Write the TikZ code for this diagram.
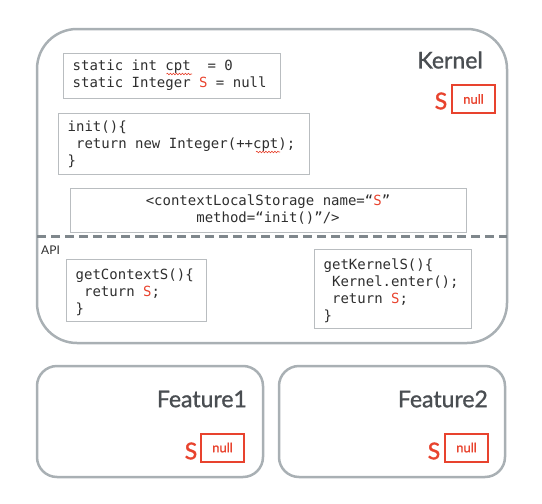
\documentclass[tikz,border=0pt]{standalone}
\usepackage{fontspec}
\setmainfont{Lato}
\newfontfamily\titlefont{Lato}[FakeBold=1.2]
\newfontfamily\sfontb{Lato}[FakeBold=1.6]
\newfontfamily\codefont{DejaVu Sans Mono}[WordSpace={1,0,0}]
\usetikzlibrary{decorations.pathmorphing}
\definecolor{outline}{HTML}{A9B0B4}
\definecolor{boxgray}{HTML}{B9BDC0}
\definecolor{dashgray}{HTML}{7F878C}
\definecolor{sred}{HTML}{E8432E}
\definecolor{titlegray}{HTML}{4A4E52}
\definecolor{codetext}{HTML}{2E2E2E}
\newcommand\RS{\textcolor{sred}{S}}
\newcommand\Sp{\hspace*{0.6021em}}
\tikzset{
  container/.style={draw=outline, line width=2.5pt, inner sep=0pt},
  codebox/.style={draw=boxgray, line width=1pt, inner sep=0pt},
  codetxt/.style={inner sep=0pt, font=\codefont\fontsize{14}{17}\selectfont, text=codetext},
  title/.style={font=\titlefont\fontsize{23}{26}\selectfont, text=titlegray, inner sep=0pt},
  sname/.style={font=\sfontb\fontsize{23}{26}\selectfont, text=sred, inner sep=0pt},
  nullbox/.style={draw=sred, line width=2pt, text=sred, inner sep=0pt,
    minimum width=43pt, minimum height=28pt, font=\titlefont\fontsize{13}{15}\selectfont},
  squiggle/.style={draw=sred, line width=0.6pt, decorate,
    decoration={snake, amplitude=0.8pt, segment length=3pt}}
}
\begin{document}
\begin{tikzpicture}[x=1pt,y=-1pt]
\useasboundingbox (0,0) rectangle (542,504);
% Kernel container
\node[container, rounded corners=40pt, minimum width=470pt, minimum height=314pt] (kernel) at (272,186) {};
\node[title, anchor=east] (ktitle) at (483,60) {Kernel};
\node[sname] (ks) at (441,101) {S};
\node[nullbox] (knull) at (473.5,99) {null};

% code boxes
\node[codebox, minimum width=217pt, minimum height=45pt] (decl) at (171.5,75.5) {};
\node[codetxt, anchor=west, align=left] (decltxt) at ([xshift=10pt]decl.west)
  {static\Sp int\Sp cpt\Sp\Sp=\Sp 0\\static\Sp Integer\Sp\RS\Sp=\Sp null};
\node[codebox, minimum width=251pt, minimum height=61pt] (init) at (183.5,143.5) {};
\node[codetxt, anchor=west, align=left] (inittxt) at ([xshift=10pt,yshift=-1pt]init.west)
  {init()\{\\\Sp return\Sp new\Sp Integer(++cpt);\\\}};
\node[codebox, minimum width=396pt, minimum height=44pt] (cls) at (268,210) {};
\node[codetxt, align=center] (clstxt) at (cls.center)
  {<contextLocalStorage\Sp name=“\RS”\\method=“init()”/>};

% dashed separator
\coordinate (dl) at (37,236);
\coordinate (dr) at (507,236);
\draw[dashgray, line width=3pt, dash pattern=on 9pt off 5pt] (dl) -- (dr);
\node[anchor=west, inner sep=0pt, font=\fontsize{12}{14}\selectfont, text=codetext] (api) at (41,250) {API};

\node[codebox, minimum width=140pt, minimum height=62pt] (ctx) at (136,290) {};
\node[codetxt, anchor=west, align=left] (ctxtxt) at ([xshift=10pt,yshift=-2pt]ctx.west)
  {getContextS()\{\\\Sp return\Sp\RS;\\\}};
\node[codebox, minimum width=157pt, minimum height=79pt] (kern) at (392.5,288.5) {};
\node[codetxt, anchor=west, align=left] (kerntxt) at ([xshift=10pt,yshift=-2pt]kern.west)
  {getKernelS()\{\\\Sp Kernel.enter();\\\Sp return\Sp\RS;\\\}};

% spelling squiggles
\draw[squiggle] (166.5,74) -- (192,74);
\draw[squiggle] (256,152) -- (280,152);

% Feature containers
\node[container, rounded corners=20pt, minimum width=226pt, minimum height=111pt] (f1) at (150,421.5) {};
\node[title, anchor=east] (f1t) at (247,399) {Feature1};
\node[sname] (f1s) at (191,451) {S};
\node[nullbox] (f1n) at (222.5,447.5) {null};

\node[container, rounded corners=20pt, minimum width=226pt, minimum height=111pt] (f2) at (392,421.5) {};
\node[title, anchor=east] (f2t) at (488,399) {Feature2};
\node[sname] (f2s) at (434,451) {S};
\node[nullbox] (f2n) at (466.5,447.5) {null};
\end{tikzpicture}
\end{document}
